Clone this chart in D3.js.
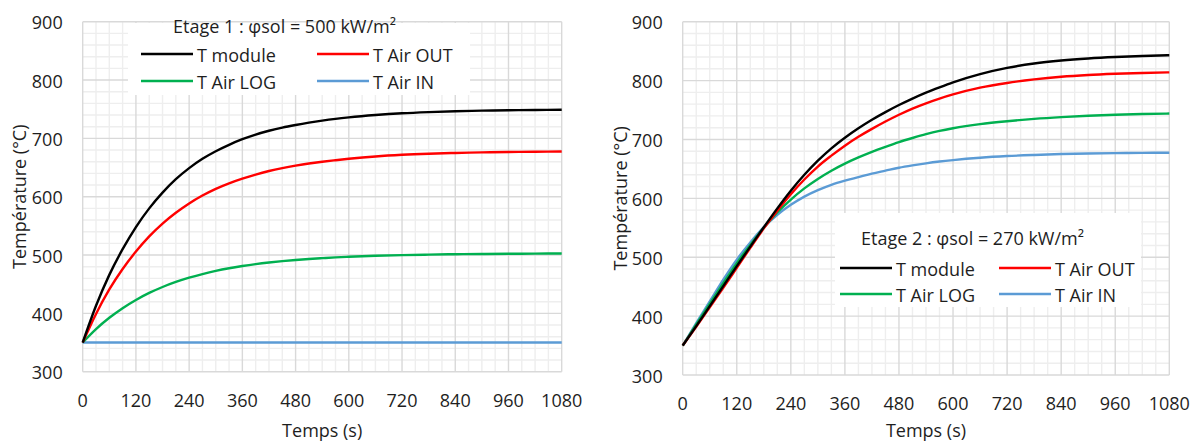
<!DOCTYPE html>
<html>
<head>
<meta charset="utf-8">
<script src="https://cdn.jsdelivr.net/npm/d3@7"></script>
<style>
  html, body { margin: 0; padding: 0; background: #ffffff; }
  svg { display: block; font-family: "Open Sans", "Noto Sans", sans-serif; }
</style>
</head>
<body>
<svg id="chart" width="1199" height="441"></svg>
<script>
// ---------- data ----------
const times = [0,30,60,90,120,150,180,210,240,270,300,330,360,390,420,450,480,510,540,570,600,660,720,780,840,900,960,1020,1080];
const xTicks = [0,120,240,360,480,600,720,840,960,1080];
const yTicks = [300,400,500,600,700,800,900];
const seriesNames = ["T module", "T Air OUT", "T Air LOG", "T Air IN"];
const seriesColors = ["#000000", "#ff0000", "#00b050", "#5b9bd5"];

// Etage 1 : φsol = 500 kW/m²
const e1Module = [350,413,466,510,548,580,607,630,649,665,678,689,698.5,706.5,713,718.5,723,727,730.5,733.5,736,740,743,745,746.5,747.5,748.2,748.7,749];
const e1AirOut = [350,399,441,476,506,532,554,572.5,588.5,602,613.5,623,631,638,644,649,653.3,657,660,662.6,665,669,671.8,673.7,675,675.9,676.6,677.1,677.5];
const e1AirLog = [350,373,392.4,408.9,423,435,445.2,453.8,461.2,467.4,472.8,477.3,481.1,484.4,487.2,489.6,491.6,493.3,494.7,496,497,498.7,499.9,500.7,501.4,501.8,502.1,502.4,502.6];
const e1AirIn  = [350,350,350,350,350,350,350,350,350,350,350,350,350,350,350,350,350,350,350,350,350,350,350,350,350,350,350,350,350];

// Etage 2 : φsol = 270 kW/m²
const e2Module = [350,383,417,451,485,518,551,583,613,640,664,685,703,719,733.5,746.5,758.5,769.5,779.5,788.5,797,811,821.5,829,834,837.5,840,841.8,843];
const e2AirOut = [350,382,415,448,482,516,549,579,607,632,654,672.5,689.5,704.5,718,730.5,742,752.5,761.5,769.5,776.5,788,796,802,806.5,809.5,811.5,813,814];
const e2AirLog = [350,386,421,456,490,521,550,576,598,617,633,647,659,669.5,679,687.5,695.5,702.5,709,714.5,719,726,731,735,738,740.3,742,743.2,744];
const e2AirIn  = [350,388,425,462,496,525,551,572,589,603,614,623,630,636,642,647,652,656,659.5,662.5,665,669,671.8,673.7,675.2,676.2,676.8,677.2,677.5];

const titles = ["Etage 1 : φsol = 500 kW/m²", "Etage 2 : φsol = 270 kW/m²"];
const xTitle = "Temps (s)";
const yTitle = "Température (°C)";

// ---------- drawing ----------
const svg = d3.select("#chart");
const textColor = "#1e1e1e";
const fontSize = 18;

function drawChart(cfg) {
  const g = svg.append("g");
  const x = d3.scaleLinear().domain([0, 1080]).range([cfg.left, cfg.right]);
  const y = d3.scaleLinear().domain([300, 900]).range([cfg.bottom, cfg.top]);

  // minor gridlines
  const xMinor = d3.range(0, 1080 + 1, 30).filter(v => v % 120 !== 0);
  const yMinor = d3.range(300, 900 + 1, 20).filter(v => v % 100 !== 0);
  g.selectAll(".vminor").data(xMinor).join("line")
    .attr("x1", d => x(d)).attr("x2", d => x(d))
    .attr("y1", cfg.top).attr("y2", cfg.bottom)
    .attr("stroke", "#eeeeee").attr("stroke-width", 1.4);
  g.selectAll(".hminor").data(yMinor).join("line")
    .attr("x1", cfg.left).attr("x2", cfg.right)
    .attr("y1", d => y(d)).attr("y2", d => y(d))
    .attr("stroke", "#eeeeee").attr("stroke-width", 1.4);
  // major gridlines
  g.selectAll(".vmajor").data(xTicks).join("line")
    .attr("x1", d => x(d)).attr("x2", d => x(d))
    .attr("y1", cfg.top).attr("y2", cfg.bottom)
    .attr("stroke", "#d9d9d9").attr("stroke-width", 1.4);
  g.selectAll(".hmajor").data(yTicks).join("line")
    .attr("x1", cfg.left).attr("x2", cfg.right)
    .attr("y1", d => y(d)).attr("y2", d => y(d))
    .attr("stroke", "#d9d9d9").attr("stroke-width", 1.4);

  // legend background
  g.append("rect")
    .attr("x", cfg.box[0]).attr("y", cfg.box[1])
    .attr("width", cfg.box[2]).attr("height", cfg.box[3])
    .attr("fill", "#ffffff");

  // curves
  const line = d3.line()
    .x((d, i) => x(times[i]))
    .y(d => y(d))
    .curve(d3.curveMonotoneX);
  const order = [3, 2, 1, 0];
  order.forEach(k => {
    g.append("path")
      .attr("d", line(cfg.series[k]))
      .attr("fill", "none")
      .attr("stroke", seriesColors[k])
      .attr("stroke-width", 2.4)
      .attr("stroke-linejoin", "round");
  });

  // tick labels
  g.selectAll(".ytl").data(yTicks).join("text")
    .attr("x", cfg.left - 20).attr("y", d => y(d) + 0.5)
    .attr("text-anchor", "end").attr("dominant-baseline", "central")
    .attr("font-size", fontSize).attr("fill", textColor)
    .text(d => d);
  g.selectAll(".xtl").data(xTicks).join("text")
    .attr("x", d => x(d)).attr("y", cfg.bottom + 28)
    .attr("text-anchor", "middle").attr("dominant-baseline", "central")
    .attr("font-size", fontSize).attr("fill", textColor)
    .text(d => d);

  // axis titles
  g.append("text")
    .attr("x", (cfg.left + cfg.right) / 2).attr("y", 430)
    .attr("text-anchor", "middle").attr("dominant-baseline", "central")
    .attr("font-size", fontSize).attr("fill", textColor)
    .text(xTitle);
  g.append("text")
    .attr("transform", `translate(${cfg.yTitleX},${(cfg.top + cfg.bottom) / 2}) rotate(-90)`)
    .attr("text-anchor", "middle").attr("dominant-baseline", "central")
    .attr("font-size", fontSize).attr("fill", textColor)
    .text(yTitle);

  // chart title
  g.append("text")
    .attr("x", cfg.titlePos[0]).attr("y", cfg.titlePos[1])
    .attr("dominant-baseline", "central")
    .attr("font-size", fontSize).attr("fill", textColor)
    .text(cfg.title);

  // legend
  seriesNames.forEach((name, k) => {
    const col = k % 2, row = Math.floor(k / 2);
    const lx = cfg.legCols[col], ly = cfg.legRows[row];
    g.append("line")
      .attr("x1", lx).attr("x2", lx + 52)
      .attr("y1", ly).attr("y2", ly)
      .attr("stroke", seriesColors[k]).attr("stroke-width", 2.4);
    g.append("text")
      .attr("x", lx + 56).attr("y", ly + 0.5)
      .attr("dominant-baseline", "central")
      .attr("font-size", fontSize).attr("fill", textColor)
      .text(name);
  });
}

drawChart({
  left: 82.7, right: 561.7, top: 21.7, bottom: 371.7,
  series: [e1Module, e1AirOut, e1AirLog, e1AirIn],
  title: titles[0], titlePos: [173, 26],
  legCols: [141, 317], legRows: [54, 81],
  box: [128, 23, 342, 72],
  yTitleX: 19
});
drawChart({
  left: 682.7, right: 1169.3, top: 21.7, bottom: 375,
  series: [e2Module, e2AirOut, e2AirLog, e2AirIn],
  title: titles[1], titlePos: [861, 238],
  legCols: [840, 999], legRows: [268, 294],
  box: [835, 213, 306, 94],
  yTitleX: 620
});
</script>
</body>
</html>
